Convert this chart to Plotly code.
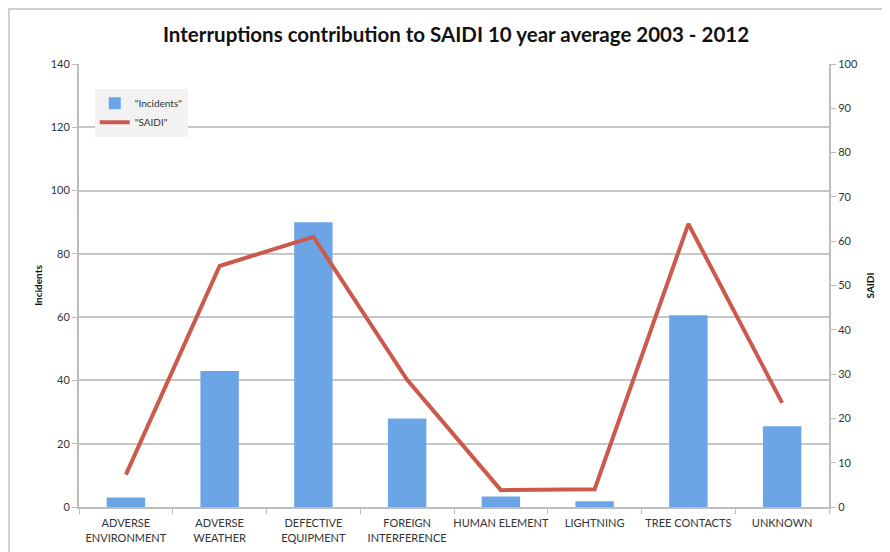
import plotly.graph_objects as go

categories = ["ADVERSE<br>ENVIRONMENT", "ADVERSE<br>WEATHER", "DEFECTIVE<br>EQUIPMENT",
              "FOREIGN<br>INTERFERENCE", "HUMAN ELEMENT", "LIGHTNING",
              "TREE CONTACTS", "UNKNOWN"]
incidents = [3, 43, 90, 28, 3.3, 1.8, 60.6, 25.5]
saidi = [7.3, 54.4, 61, 28.7, 3.8, 4, 63.9, 23.5]

FONT = "Lato, 'Open Sans', sans-serif"

fig = go.Figure()
fig.add_trace(go.Bar(
    x=categories, y=incidents, name='"Incidents"',
    marker=dict(color="#6ca5e6", line=dict(width=0)),
    yaxis="y",
))
fig.add_trace(go.Scatter(
    x=categories, y=saidi, name='"SAIDI"', mode="lines",
    line=dict(color="#cb5a4c", width=4),
    yaxis="y2",
))

# page body has an 8px margin, so offsets compensate
fig.update_layout(
    width=890, height=552,
    margin=dict(l=71, r=69, t=56, b=53, autoexpand=False),
    paper_bgcolor="white", plot_bgcolor="white",
    font=dict(family=FONT, size=11, color="#333333"),
    title=dict(text="Interruptions contribution to SAIDI 10 year average 2003 - 2012",
               x=(456-8)/890, xanchor="center", y=1 - 27/552, yanchor="middle",
               font=dict(family=FONT, size=20.5, color="#111111", weight=700)),
    bargap=0.59,
    showlegend=True,
    legend=dict(x=0.021, y=0.944, xanchor="left", yanchor="top",
                bgcolor="#f2f2f2", font=dict(size=10, color="#333333"),
                itemwidth=30, tracegroupgap=4),
    xaxis=dict(showline=True, linecolor="#bdbdbd", linewidth=2,
               ticks="outside", tickcolor="#bdbdbd", ticklen=5, tickson="boundaries",
               tickangle=0, ticklabelstandoff=5,
               tickfont=dict(size=11, color="#333333"), automargin=False),
    yaxis=dict(range=[0, 140], dtick=20, showgrid=True, gridcolor="#c6c6c6", gridwidth=1.5,
               showline=True, linecolor="#bdbdbd", linewidth=2,
               ticks="outside", tickcolor="#bdbdbd", ticklen=5,
               tickfont=dict(size=11, color="#333333"), zeroline=False,
               title=dict(text="Incidents", font=dict(size=10, color="#111111", weight=700),
                          standoff=6), automargin=False),
    yaxis2=dict(range=[0, 100], dtick=10, overlaying="y", side="right", showgrid=False,
                showline=True, linecolor="#bdbdbd", linewidth=2,
                ticks="outside", tickcolor="#bdbdbd", ticklen=5,
                tickfont=dict(size=11, color="#333333"), zeroline=False,
                title=dict(text="SAIDI", font=dict(size=10, color="#111111", weight=700),
                           standoff=10), automargin=False),
    shapes=[dict(type="rect", xref="paper", yref="paper",
                 x0=(9-79)/750, x1=1.3, y0=-0.3, y1=(507-9)/443,
                 line=dict(color="#d0d0d0", width=2), fillcolor="rgba(0,0,0,0)", layer="below")],
)

fig.write_html("out.html")
